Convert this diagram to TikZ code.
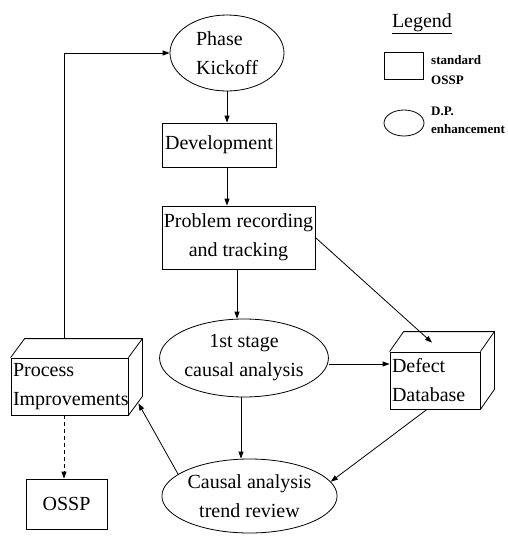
\documentclass[tikz,border=0pt]{standalone}
\usepackage{fontspec}
\setmainfont{Liberation Serif}
\usetikzlibrary{shapes.geometric,arrows.meta,calc}
\tikzset{
  base/.style={draw,line width=0.8pt,inner sep=0pt,font=\fontsize{20}{29}\selectfont},
  boxnode/.style={base,rectangle,align=center},
  ellnode/.style={base,ellipse,align=center},
  legtext/.style={font=\fontsize{13}{20}\selectfont\bfseries,align=left,anchor=west,inner sep=0pt},
  arr/.style={line width=0.8pt,-{Triangle[length=7pt,width=5pt]}},
  dasharr/.style={arr,dashed,dash pattern=on 4pt off 3pt},
  plain/.style={line width=0.8pt},
}
\begin{document}
\begin{tikzpicture}[x=1pt,y=-1pt]
\useasboundingbox[fill=white] (0,0) rectangle (507,536);
% main nodes
\node[ellnode,minimum width=114pt,minimum height=76pt,align=left] (kick) at (227,53) {Phase\\Kickoff};
\node[boxnode,minimum width=114pt,minimum height=44pt] (dev) at (219,145) {Development};
\node[boxnode,minimum width=153pt,minimum height=63pt] (prob) at (238.5,237.5) {Problem recording\\and tracking};
\node[ellnode,minimum width=156pt,minimum height=78pt] (first) at (244,358) {1st stage\\causal analysis};
\node[ellnode,minimum width=155pt,minimum height=74pt] (trend) at (249.5,496) {Causal analysis\\trend review};
\node[boxnode,align=left,minimum width=90pt,minimum height=57pt,text width=86pt] (defect) at (435,380.5) {Defect\\Database};
\node[boxnode,align=left,minimum width=117pt,minimum height=57pt,text width=113pt] (procimp) at (69.5,386.5) {Process\\Improvements};
\node[boxnode,minimum width=81pt,minimum height=50pt] (ossp) at (66.5,504) {OSSP};
% 3D faces
\foreach \n/\dy in {defect/-20,procimp/-19}{
  \draw[plain] (\n.north west) -- ++(14,\dy) -- ($(\n.north east)+(14,\dy)$) -- ($(\n.south east)+(14,\dy)$) -- (\n.south east);
  \draw[plain] (\n.north east) -- ++(14,\dy);
}
% legend
\node[font=\fontsize{20}{24}\selectfont,inner sep=0pt] (legtitle) at (422,24) {\underline{Legend}};
\node[draw,line width=0.8pt,minimum width=39pt,minimum height=27pt,inner sep=0pt] (legbox) at (403.5,65.5) {};
\node[legtext] (legboxtext) at (431,70.5) {standard\\OSSP};
\node[draw,ellipse,line width=0.8pt,minimum width=40pt,minimum height=26pt,inner sep=0pt] (legell) at (404,123) {};
\node[legtext,font=\fontsize{13}{18}\selectfont\bfseries] (legelltext) at (431,120) {D.P.\\enhancement};
% helper coordinates
\coordinate (xa) at (237,0);
\coordinate (xb) at (241,0);
\coordinate (xc) at (64,0);
\coordinate (ya) at (0,364);
\coordinate (fb) at ($(procimp.north)+(-5.5,-19)$);
\coordinate (dbtop) at ($(defect.north)+(-3,-9)$);
\coordinate (dbbot) at ($(defect.south)+(-8,0)$);
\coordinate (piside) at ($(procimp.south east)+(10,-12)$);
% connectors
\draw[arr] (kick.south) -- (dev.north -| kick.south);
\draw[arr] (dev.south -| kick.south) -- (prob.north -| kick.south);
\draw[arr] (prob.south -| xa) -- (first.north -| xa);
\draw[arr] (prob.east) -- (dbtop);
\draw[arr] (first.east |- ya) -- (defect.west |- ya);
\draw[arr] (first.south -| xb) -- (trend.north -| xb);
\draw[arr] (dbbot) -- (trend.10);
\draw[arr] (trend.163) -- (piside);
\draw[dasharr] (procimp.south -| xc) -- (ossp.north -| xc);
\draw[arr] (fb) |- (kick.west);
\end{tikzpicture}
\end{document}
